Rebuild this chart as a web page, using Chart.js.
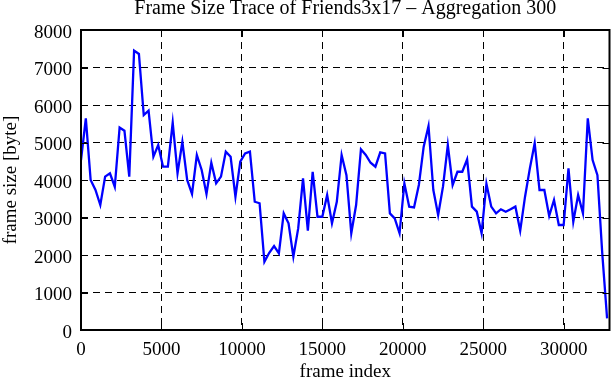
<!DOCTYPE html>
<html><head><meta charset="utf-8">
<script src="https://cdn.jsdelivr.net/npm/chart.js@4.4.1/dist/chart.umd.min.js"></script>
<style>html,body{margin:0;padding:0;background:#fff}canvas{display:block}</style>
</head><body>
<canvas id="c" width="611" height="380"></canvas>
<script>
const chartTitle = 'Frame Size Trace of Friends3x17 \u2013 Aggregation 300';
const xAxisTitle = 'frame index';
const yAxisTitle = 'frame size [byte]';

const frameIndex = [0,300,600,900,1200,1500,1800,2100,2400,2700,3000,3300,3600,3900,4200,4500,4800,5100,5400,5700,
6000,6300,6600,6900,7200,7500,7800,8100,8400,8700,9000,9300,9600,9900,10200,10500,10800,11100,11400,11700,
12000,12300,12600,12900,13200,13500,13800,14100,14400,14700,15000,15300,15600,15900,16200,16500,16800,17100,17400,17700,
18000,18300,18600,18900,19200,19500,19800,20100,20400,20700,21000,21300,21600,21900,22200,22500,22800,23100,23400,23700,
24000,24300,24600,24900,25200,25500,25800,26100,26400,26700,27000,27300,27600,27900,28200,28500,28800,29100,29400,29700,
30000,30300,30600,30900,31200,31500,31800,32100,32400,32700];

const frameSize = [4530,5645,4000,3733,3333,4090,4180,3820,5400,5315,4090,7450,7360,5730,5850,4620,4930,4355,4355,5530,
4180,5020,4000,3627,4667,4267,3627,4460,3910,4090,4755,4620,3555,4490,4710,4755,3420,3380,1820,2060,
2240,2045,3110,2845,1955,2710,4045,2650,4220,3020,3020,3600,2845,3420,4667,4130,2580,3333,4817,4667,
4460,4355,4737,4710,3110,2977,2580,3910,3290,3270,3867,4890,5440,3733,3067,3822,4933,3867,4220,4220,
4550,3290,3155,2580,3900,3290,3110,3220,3155,3220,3290,2650,3555,4310,4980,3733,3733,3040,3467,2800,
2800,4310,2890,3600,3110,5645,4533,4130,2045,312];

const xTickValues = [0,5000,10000,15000,20000,25000,30000];
const xTickLabels = ['0','5000','10000','15000','20000','25000','30000'];
const yTickValues = [0,1000,2000,3000,4000,5000,6000,7000,8000];
const yTickLabels = ['0','1000','2000','3000','4000','5000','6000','7000','8000'];

const FONT = 'Liberation Serif';

const framePlugin = {
  id: 'frameBox',
  afterDraw(chart) {
    const {ctx, chartArea: a, scales: {x, y}} = chart;
    const L = 7;
    ctx.save();
    ctx.strokeStyle = '#000';
    ctx.lineWidth = 1;
    ctx.beginPath();
    x.ticks.forEach(t => {
      const px = Math.round(x.getPixelForValue(t.value)) + 0.5;
      ctx.moveTo(px, a.bottom); ctx.lineTo(px, a.bottom - L);
      ctx.moveTo(px, a.top); ctx.lineTo(px, a.top + L);
    });
    y.ticks.forEach(t => {
      const py = Math.round(y.getPixelForValue(t.value)) + 0.5;
      ctx.moveTo(a.left, py); ctx.lineTo(a.left + L, py);
      ctx.moveTo(a.right, py); ctx.lineTo(a.right - L, py);
    });
    ctx.stroke();
    ctx.lineWidth = 2;
    ctx.strokeRect(a.left, a.top, a.right - a.left, a.bottom - a.top);
    ctx.restore();
  }
};

new Chart(document.getElementById('c'), {
  type: 'line',
  data: {
    datasets: [{
      data: frameIndex.map((f, i) => ({x: f, y: frameSize[i]})),
      borderColor: '#0000ff',
      borderWidth: 2.3,
      pointRadius: 0,
      tension: 0,
      fill: false
    }]
  },
  options: {
    responsive: false,
    animation: false,
    devicePixelRatio: 1,
    layout: {padding: {left: 0, right: 1.5, top: 0, bottom: 0}},
    plugins: {
      legend: {display: false},
      tooltip: {enabled: false},
      title: {
        display: true,
        text: chartTitle,
        fullSize: false,
        color: '#000',
        font: {family: FONT, size: 20, weight: 'normal', lineHeight: 0.9},
        padding: {top: 0, bottom: 12}
      }
    },
    scales: {
      x: {
        type: 'linear',
        min: 0,
        max: 32850,
        afterBuildTicks: s => { s.ticks = xTickValues.map(v => ({value: v})); },
        afterFit: s => { s.height = 50; },
        ticks: {
          font: {family: FONT, size: 19},
          color: '#000',
          padding: 9,
          maxRotation: 0,
          autoSkip: false,
          callback: (v, i) => xTickLabels[i]
        },
        grid: {color: '#000', lineWidth: 1, drawTicks: false},
        border: {display: false, dash: [7, 5]},
        title: {
          display: true, text: xAxisTitle, color: '#000',
          font: {family: FONT, size: 19, lineHeight: 0.8},
          padding: {top: 0, bottom: 0}
        }
      },
      y: {
        type: 'linear',
        min: 0,
        max: 8000,
        afterBuildTicks: s => { s.ticks = yTickValues.map(v => ({value: v})); },
        afterFit: s => { s.width = 81; },
        ticks: {
          font: {family: FONT, size: 19},
          color: '#000',
          padding: 9,
          labelOffset: 3,
          callback: (v, i) => yTickLabels[i]
        },
        grid: {color: '#000', lineWidth: 1, drawTicks: false},
        border: {display: false, dash: [7, 5]},
        title: {
          display: true, text: yAxisTitle, color: '#000',
          font: {family: FONT, size: 19, lineHeight: 1},
          padding: {top: 2, bottom: 0}
        }
      }
    }
  },
  plugins: [framePlugin]
});
</script>
</body></html>
